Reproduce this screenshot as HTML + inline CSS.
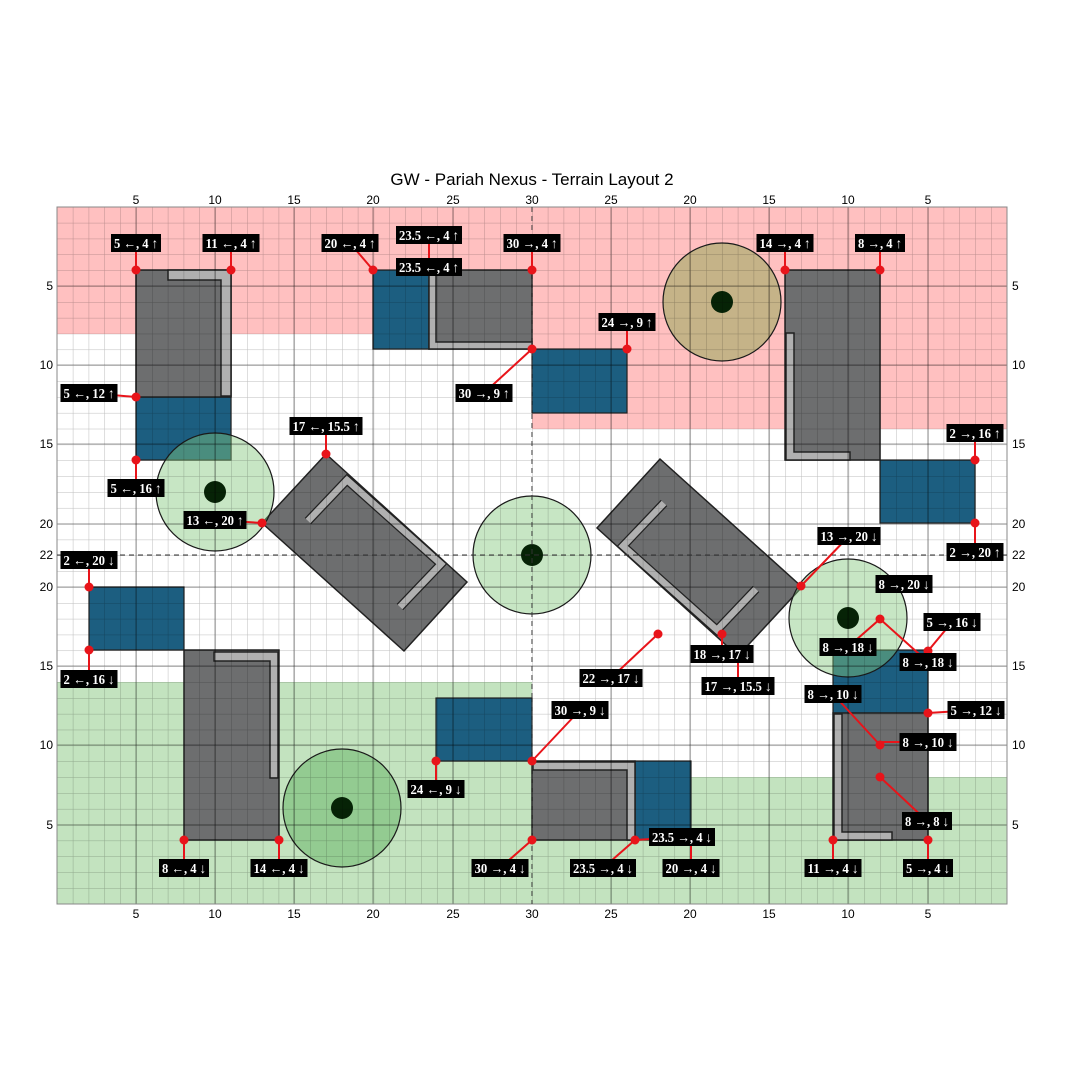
<!DOCTYPE html>
<html><head><meta charset="utf-8"><style>
html,body{margin:0;padding:0;background:#fff;}
svg{display:block;}
.ax{font-family:"Liberation Sans",sans-serif;font-size:12px;fill:#000;}
.lb rect{fill:#000;}
.lb text{font-family:"Liberation Serif",serif;font-size:14px;font-weight:bold;fill:#fff;text-anchor:middle;}
</style></head><body>
<svg width="1080" height="1080" viewBox="0 0 1080 1080" xmlns="http://www.w3.org/2000/svg">
<defs>
<pattern id="minor" x="57" y="207" width="15.833" height="15.84" patternUnits="userSpaceOnUse">
<path d="M0 0 H15.833 M0 0 V15.84" stroke="rgba(0,0,0,0.26)" stroke-width="1" fill="none"/>
</pattern>
</defs>
<rect width="1080" height="1080" fill="#fff"/>
<text x="532" y="185" class="ax" style="font-size:17px" text-anchor="middle">GW - Pariah Nexus - Terrain Layout 2</text>

<rect x="57" y="207" width="475" height="127" fill="#ffc0c0"/>
<rect x="532" y="207" width="475" height="222" fill="#ffc0c0"/>
<rect x="57" y="682" width="475" height="222" fill="#c3e3bf"/>
<rect x="532" y="777" width="475" height="127" fill="#c3e3bf"/>

<g fill="#1c5e80" stroke="#222" stroke-width="1.2">
<rect x="136" y="397" width="95" height="63"/>
<rect x="373" y="270" width="56" height="79"/>
<rect x="532" y="349" width="95" height="64"/>
<rect x="880" y="460" width="95" height="63"/>
<rect x="89" y="587" width="95" height="63"/>
<rect x="436" y="698" width="96" height="63"/>
<rect x="635" y="761" width="56" height="79"/>
<rect x="833" y="650" width="95" height="63"/>
</g>

<g stroke="#222" stroke-width="1.5">
<rect x="136" y="270" width="95" height="127" fill="#6d6e6f"/>
<path d="M168 270 H231 V396 H221 V280 H168 Z" fill="#b0b0b0"/>
<rect x="429" y="270" width="103" height="79" fill="#6d6e6f"/>
<path d="M429 270 H436 V342 H532 V349 H429 Z" fill="#b0b0b0"/>
<rect x="785" y="270" width="95" height="190" fill="#6d6e6f"/>
<path d="M786 333 H794 V452 H850 V460 H786 Z" fill="#b0b0b0"/>
<rect x="184" y="650" width="95" height="190" fill="#6d6e6f"/>
<path d="M214 652 H278 V778 H270 V661 H214 Z" fill="#b0b0b0"/>
<rect x="532" y="761" width="103" height="79" fill="#6d6e6f"/>
<path d="M533 762 H635 V840 H627 V770 H533 Z" fill="#b0b0b0"/>
<rect x="833" y="713" width="95" height="127" fill="#6d6e6f"/>
<path d="M834 714 H842 V832 H892 V840 H834 Z" fill="#b0b0b0"/>
</g>
<g>
<polygon points="262,523 326,454 467,582 404,651" fill="#6d6e6f" stroke="#222" stroke-width="1.5"/>
<polyline points="308,521 347,480 441,564 400,607" fill="none" stroke="#222" stroke-width="9"/>
<polyline points="308,521 347,480 441,564 400,607" fill="none" stroke="#b0b0b0" stroke-width="6.5"/>
</g>
<g transform="rotate(180 532 555)">
<polygon points="262,523 326,454 467,582 404,651" fill="#6d6e6f" stroke="#222" stroke-width="1.5"/>
<polyline points="308,521 347,480 441,564 400,607" fill="none" stroke="#222" stroke-width="9"/>
<polyline points="308,521 347,480 441,564 400,607" fill="none" stroke="#b0b0b0" stroke-width="6.5"/>
</g>

<g stroke="#1a1a1a" stroke-width="1.2">
<circle cx="215" cy="492" r="59" fill="rgba(130,200,125,0.45)"/>
<circle cx="722" cy="302" r="59" fill="rgba(140,165,80,0.5)"/>
<circle cx="532" cy="555" r="59" fill="rgba(130,200,125,0.45)"/>
<circle cx="848" cy="618" r="59" fill="rgba(130,200,125,0.45)"/>
<circle cx="342" cy="808" r="59" fill="rgba(100,180,100,0.5)"/>
</g>
<g fill="#062306">
<circle cx="215" cy="492" r="11"/><circle cx="722" cy="302" r="11"/><circle cx="532" cy="555" r="11"/><circle cx="848" cy="618" r="11"/><circle cx="342" cy="808" r="11"/>
</g>

<rect x="57" y="207" width="950" height="697" fill="url(#minor)"/>
<g stroke="rgba(0,0,0,0.3)" stroke-width="1.3">
<path d="M136 207V904M215 207V904M294 207V904M373 207V904M453 207V904M611 207V904M690 207V904M769 207V904M848 207V904M928 207V904"/>
<path d="M57 286H1007M57 365H1007M57 444H1007M57 524H1007M57 587H1007M57 666H1007M57 745H1007M57 825H1007"/>
</g>
<rect x="57" y="207" width="950" height="697" fill="none" stroke="#888" stroke-width="1"/>
<g stroke="#333" stroke-width="1" stroke-dasharray="5,4">
<line x1="532" y1="207" x2="532" y2="904"/>
<line x1="57" y1="555" x2="1007" y2="555"/>
</g>

<g class="ax" text-anchor="middle">
<text x="136" y="204">5</text><text x="215" y="204">10</text><text x="294" y="204">15</text><text x="373" y="204">20</text><text x="453" y="204">25</text><text x="532" y="204">30</text><text x="611" y="204">25</text><text x="690" y="204">20</text><text x="769" y="204">15</text><text x="848" y="204">10</text><text x="928" y="204">5</text>
<text x="136" y="918">5</text><text x="215" y="918">10</text><text x="294" y="918">15</text><text x="373" y="918">20</text><text x="453" y="918">25</text><text x="532" y="918">30</text><text x="611" y="918">25</text><text x="690" y="918">20</text><text x="769" y="918">15</text><text x="848" y="918">10</text><text x="928" y="918">5</text>
</g>
<g class="ax" text-anchor="end">
<text x="53" y="290">5</text><text x="53" y="369">10</text><text x="53" y="448">15</text><text x="53" y="528">20</text><text x="53" y="559">22</text><text x="53" y="591">20</text><text x="53" y="670">15</text><text x="53" y="749">10</text><text x="53" y="829">5</text>
</g>
<g class="ax" text-anchor="start">
<text x="1012" y="290">5</text><text x="1012" y="369">10</text><text x="1012" y="448">15</text><text x="1012" y="528">20</text><text x="1012" y="559">22</text><text x="1012" y="591">20</text><text x="1012" y="670">15</text><text x="1012" y="749">10</text><text x="1012" y="829">5</text>
</g>

<g stroke="#e8141a" stroke-width="2" fill="none">
<path d="M136 243V270M231 243V270M350 243L373 270M429 235V267M532 243V270M484 393L532 349M89 393L136 397M136 488V460M326 426V454M215 520L262 523M627 322V349M785 243V270M880 243V270M975 433V460M975 552V523M89 560V587M89 679V650"/>
<path d="M849 536L801 586M848 647L880 619L928 662M952 622L928 651M722 654V634M738 654V686M611 678L658 634M580 710L532 761M436 789V761M184 868V840M279 868V840M500 868L532 840M603 868L635 840L682 837M691 837V868M833 868V840M928 868V840M927 821L880 777M928 742H880M833 694L880 745M976 710L928 713"/>
</g>
<g fill="#e8141a">
<circle cx="136" cy="270" r="4.5"/><circle cx="231" cy="270" r="4.5"/><circle cx="373" cy="270" r="4.5"/><circle cx="532" cy="270" r="4.5"/><circle cx="532" cy="349" r="4.5"/><circle cx="136" cy="397" r="4.5"/><circle cx="136" cy="460" r="4.5"/><circle cx="326" cy="454" r="4.5"/><circle cx="262" cy="523" r="4.5"/><circle cx="627" cy="349" r="4.5"/><circle cx="785" cy="270" r="4.5"/><circle cx="880" cy="270" r="4.5"/><circle cx="975" cy="460" r="4.5"/><circle cx="975" cy="523" r="4.5"/><circle cx="89" cy="587" r="4.5"/><circle cx="89" cy="650" r="4.5"/>
<circle cx="801" cy="586" r="4.5"/><circle cx="880" cy="619" r="4.5"/><circle cx="928" cy="651" r="4.5"/><circle cx="722" cy="634" r="4.5"/><circle cx="658" cy="634" r="4.5"/><circle cx="532" cy="761" r="4.5"/><circle cx="436" cy="761" r="4.5"/><circle cx="184" cy="840" r="4.5"/><circle cx="279" cy="840" r="4.5"/><circle cx="532" cy="840" r="4.5"/><circle cx="635" cy="840" r="4.5"/><circle cx="833" cy="840" r="4.5"/><circle cx="928" cy="840" r="4.5"/><circle cx="880" cy="777" r="4.5"/><circle cx="880" cy="745" r="4.5"/><circle cx="928" cy="713" r="4.5"/>
</g>

<g class="lb">
<rect x="111" y="234" width="50" height="18"/><text x="136" y="248" textLength="44" lengthAdjust="spacingAndGlyphs">5 ←, 4 ↑</text>
<rect x="202.5" y="234" width="57" height="18"/><text x="231" y="248" textLength="51" lengthAdjust="spacingAndGlyphs">11 ←, 4 ↑</text>
<rect x="321.5" y="234" width="57" height="18"/><text x="350" y="248" textLength="51" lengthAdjust="spacingAndGlyphs">20 ←, 4 ↑</text>
<rect x="396" y="226" width="66" height="18"/><text x="429" y="240" textLength="60" lengthAdjust="spacingAndGlyphs">23.5 ←, 4 ↑</text>
<rect x="396" y="258" width="66" height="18"/><text x="429" y="272" textLength="60" lengthAdjust="spacingAndGlyphs">23.5 ←, 4 ↑</text>
<rect x="503.5" y="234" width="57" height="18"/><text x="532" y="248" textLength="51" lengthAdjust="spacingAndGlyphs">30 →, 4 ↑</text>
<rect x="455.5" y="384" width="57" height="18"/><text x="484" y="398" textLength="51" lengthAdjust="spacingAndGlyphs">30 →, 9 ↑</text>
<rect x="60.5" y="384" width="57" height="18"/><text x="89" y="398" textLength="51" lengthAdjust="spacingAndGlyphs">5 ←, 12 ↑</text>
<rect x="107.5" y="479" width="57" height="18"/><text x="136" y="493" textLength="51" lengthAdjust="spacingAndGlyphs">5 ←, 16 ↑</text>
<rect x="289.5" y="417" width="73" height="18"/><text x="326" y="431" textLength="67" lengthAdjust="spacingAndGlyphs">17 ←, 15.5 ↑</text>
<rect x="183.5" y="511" width="63" height="18"/><text x="215" y="525" textLength="57" lengthAdjust="spacingAndGlyphs">13 ←, 20 ↑</text>
<rect x="598.5" y="313" width="57" height="18"/><text x="627" y="327" textLength="51" lengthAdjust="spacingAndGlyphs">24 →, 9 ↑</text>
<rect x="756.5" y="234" width="57" height="18"/><text x="785" y="248" textLength="51" lengthAdjust="spacingAndGlyphs">14 →, 4 ↑</text>
<rect x="855" y="234" width="50" height="18"/><text x="880" y="248" textLength="44" lengthAdjust="spacingAndGlyphs">8 →, 4 ↑</text>
<rect x="946.5" y="424" width="57" height="18"/><text x="975" y="438" textLength="51" lengthAdjust="spacingAndGlyphs">2 →, 16 ↑</text>
<rect x="946.5" y="543" width="57" height="18"/><text x="975" y="557" textLength="51" lengthAdjust="spacingAndGlyphs">2 →, 20 ↑</text>
<rect x="60.5" y="551" width="57" height="18"/><text x="89" y="565" textLength="51" lengthAdjust="spacingAndGlyphs">2 ←, 20 ↓</text>
<rect x="60.5" y="670" width="57" height="18"/><text x="89" y="684" textLength="51" lengthAdjust="spacingAndGlyphs">2 ←, 16 ↓</text>
<rect x="817.5" y="527" width="63" height="18"/><text x="849" y="541" textLength="57" lengthAdjust="spacingAndGlyphs">13 →, 20 ↓</text>
<rect x="875.5" y="575" width="57" height="18"/><text x="904" y="589" textLength="51" lengthAdjust="spacingAndGlyphs">8 →, 20 ↓</text>
<rect x="819.5" y="638" width="57" height="18"/><text x="848" y="652" textLength="51" lengthAdjust="spacingAndGlyphs">8 →, 18 ↓</text>
<rect x="899.5" y="653" width="57" height="18"/><text x="928" y="667" textLength="51" lengthAdjust="spacingAndGlyphs">8 →, 18 ↓</text>
<rect x="923.5" y="613" width="57" height="18"/><text x="952" y="627" textLength="51" lengthAdjust="spacingAndGlyphs">5 →, 16 ↓</text>
<rect x="690.5" y="645" width="63" height="18"/><text x="722" y="659" textLength="57" lengthAdjust="spacingAndGlyphs">18 →, 17 ↓</text>
<rect x="701.5" y="677" width="73" height="18"/><text x="738" y="691" textLength="67" lengthAdjust="spacingAndGlyphs">17 →, 15.5 ↓</text>
<rect x="579.5" y="669" width="63" height="18"/><text x="611" y="683" textLength="57" lengthAdjust="spacingAndGlyphs">22 →, 17 ↓</text>
<rect x="551.5" y="701" width="57" height="18"/><text x="580" y="715" textLength="51" lengthAdjust="spacingAndGlyphs">30 →, 9 ↓</text>
<rect x="407.5" y="780" width="57" height="18"/><text x="436" y="794" textLength="51" lengthAdjust="spacingAndGlyphs">24 ←, 9 ↓</text>
<rect x="159" y="859" width="50" height="18"/><text x="184" y="873" textLength="44" lengthAdjust="spacingAndGlyphs">8 ←, 4 ↓</text>
<rect x="250.5" y="859" width="57" height="18"/><text x="279" y="873" textLength="51" lengthAdjust="spacingAndGlyphs">14 ←, 4 ↓</text>
<rect x="471.5" y="859" width="57" height="18"/><text x="500" y="873" textLength="51" lengthAdjust="spacingAndGlyphs">30 →, 4 ↓</text>
<rect x="570" y="859" width="66" height="18"/><text x="603" y="873" textLength="60" lengthAdjust="spacingAndGlyphs">23.5 →, 4 ↓</text>
<rect x="649" y="828" width="66" height="18"/><text x="682" y="842" textLength="60" lengthAdjust="spacingAndGlyphs">23.5 →, 4 ↓</text>
<rect x="662.5" y="859" width="57" height="18"/><text x="691" y="873" textLength="51" lengthAdjust="spacingAndGlyphs">20 →, 4 ↓</text>
<rect x="804.5" y="859" width="57" height="18"/><text x="833" y="873" textLength="51" lengthAdjust="spacingAndGlyphs">11 →, 4 ↓</text>
<rect x="903" y="859" width="50" height="18"/><text x="928" y="873" textLength="44" lengthAdjust="spacingAndGlyphs">5 →, 4 ↓</text>
<rect x="902" y="812" width="50" height="18"/><text x="927" y="826" textLength="44" lengthAdjust="spacingAndGlyphs">8 →, 8 ↓</text>
<rect x="899.5" y="733" width="57" height="18"/><text x="928" y="747" textLength="51" lengthAdjust="spacingAndGlyphs">8 →, 10 ↓</text>
<rect x="804.5" y="685" width="57" height="18"/><text x="833" y="699" textLength="51" lengthAdjust="spacingAndGlyphs">8 →, 10 ↓</text>
<rect x="947.5" y="701" width="57" height="18"/><text x="976" y="715" textLength="51" lengthAdjust="spacingAndGlyphs">5 →, 12 ↓</text>
</g>
</svg>
</body></html>
